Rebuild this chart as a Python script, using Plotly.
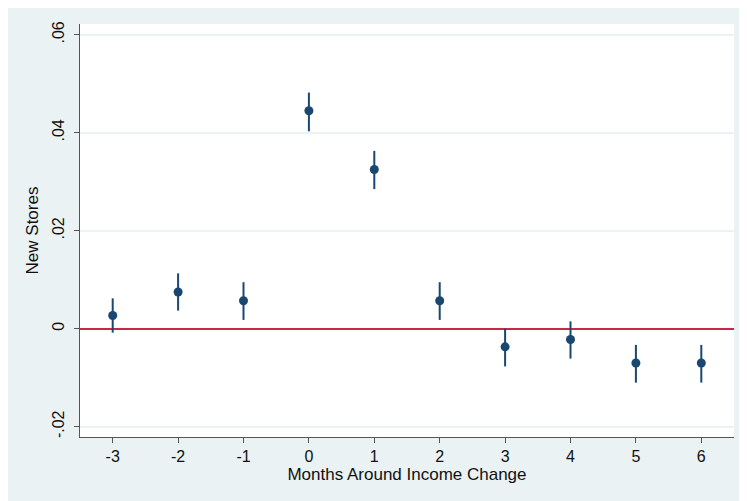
import plotly.graph_objects as go

months = [-3, -2, -1, 0, 1, 2, 3, 4, 5, 6]
coef = [0.0027, 0.0075, 0.0057, 0.0445, 0.0325, 0.0057, -0.0037, -0.0022, -0.0070, -0.0070]
ci_hi = [0.0062, 0.0113, 0.0095, 0.0482, 0.0363, 0.0095, 0.0000, 0.0015, -0.0033, -0.0033]
ci_lo = [-0.0008, 0.0037, 0.0018, 0.0403, 0.0285, 0.0018, -0.0077, -0.0061, -0.0110, -0.0110]

y_ticks = [-0.02, 0, 0.02, 0.04, 0.06]
y_tick_labels = ["-.02", "0", ".02", ".04", ".06"]

navy = "#1A476F"
bg = "#EAF2F3"

err_plus = [h - c for h, c in zip(ci_hi, coef)]
err_minus = [c - l for c, l in zip(coef, ci_lo)]

fig = go.Figure()
fig.add_trace(go.Scatter(
    x=months, y=coef, mode="markers",
    marker=dict(color=navy, size=9),
    error_y=dict(type="data", array=err_plus, arrayminus=err_minus,
                 symmetric=False, color=navy, thickness=2, width=0),
    showlegend=False,
))

font = "Liberation Sans, Arial, sans-serif"
# the page body adds an 8px margin, so the figure is sized to the visible area
fig.update_layout(
    width=739, height=493,
    margin=dict(l=72, r=13, t=16, b=64),
    paper_bgcolor=bg, plot_bgcolor="white",
    font=dict(family=font, color="#111111", size=16),
    xaxis=dict(
        range=[-3.5, 6.5], tickmode="array", tickvals=months,
        ticktext=[str(m) for m in months],
        showgrid=False, zeroline=False,
        showline=True, linecolor="#555555", linewidth=1,
        ticks="outside", ticklen=5, tickcolor="#555555",
        tickfont=dict(size=16),
        title=dict(text="Months Around Income Change", font=dict(size=17), standoff=0),
    ),
    yaxis=dict(
        range=[-0.0221, 0.0622], tickmode="array", tickvals=y_ticks,
        ticktext=y_tick_labels, tickangle=-90,
        showgrid=True, gridcolor=bg, gridwidth=2,
        zeroline=True, zerolinecolor="#C9264C", zerolinewidth=2,
        showline=True, linecolor="#555555", linewidth=1,
        ticks="outside", ticklen=5, tickcolor="#555555",
        tickfont=dict(size=16), ticklabelstandoff=4,
        title=dict(text="New Stores", font=dict(size=17), standoff=6),
    ),
)

fig.write_html("out.html")
